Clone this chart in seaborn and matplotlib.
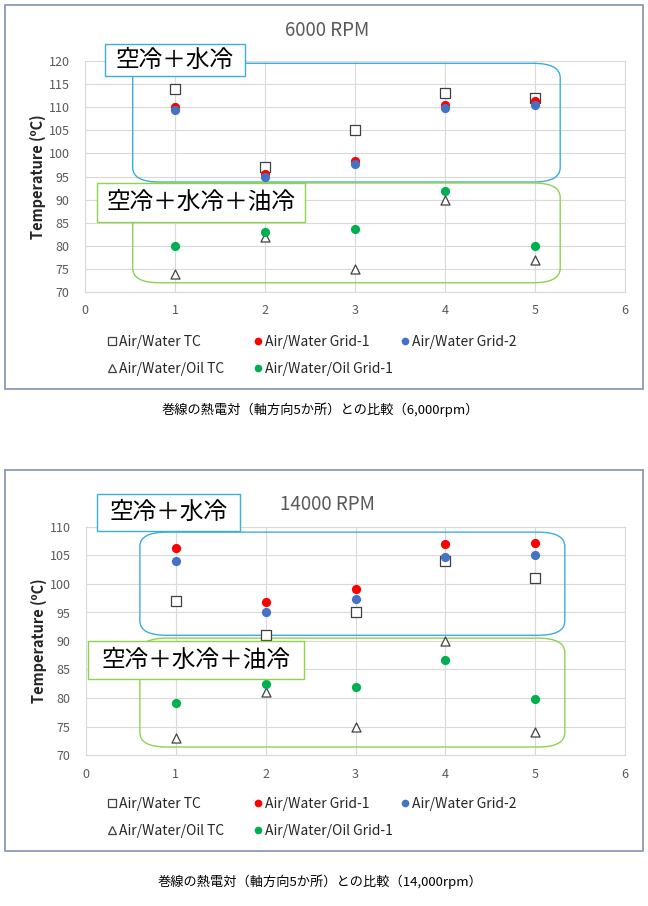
import matplotlib
matplotlib.use("Agg")
import matplotlib.pyplot as plt
import matplotlib.patches as mpatches
from matplotlib.lines import Line2D
import numpy as np
import pandas as pd
import seaborn as sns

# positions along the winding (thermocouple locations)
positions = [1, 2, 3, 4, 5]

# 6000 rpm
aw_tc_6k = [114, 97, 105, 113, 112]
aw_g1_6k = [110, 95.5, 98.3, 110.4, 111.4]
aw_g2_6k = [109.3, 95, 97.8, 109.9, 110.5]
awo_tc_6k = [74, 82, 75, 90, 77]
awo_g1_6k = [80, 83, 83.6, 91.9, 80]

# 14000 rpm
aw_tc_14k = [97, 91, 95, 104, 101]
aw_g1_14k = [106.4, 96.8, 99.2, 107, 107.2]
aw_g2_14k = [104, 95, 97.3, 104.8, 105]
awo_tc_14k = [73, 81, 75, 90, 74]
awo_g1_14k = [79.1, 82.4, 82, 86.7, 79.8]

series_names = ["Air/Water TC", "Air/Water Grid-1", "Air/Water Grid-2",
                "Air/Water/Oil TC", "Air/Water/Oil Grid-1"]
titles = ["6000 RPM", "14000 RPM"]
captions = ["巻線の熱電対（軸方向5か所）との比較（6,000rpm）",
            "巻線の熱電対（軸方向5か所）との比較（14,000rpm）"]
group_labels = ["空冷＋水冷", "空冷＋水冷＋油冷"]

sns.set_theme(style="white")
plt.rcParams["font.family"] = ["Noto Sans CJK JP", "DejaVu Sans"]

W, H = 648, 906
fig = plt.figure(figsize=(W / 100, H / 100), dpi=100)


def fx(px):
    return px / W


def fy(py):
    return 1 - py / H


RED, BLUE, GREEN = "#FF0000", "#4472C4", "#00B050"
BOX_BLUE, BOX_GREEN = "#3BAEDC", "#92D050"
TXT = "#595959"

styles = {
    "Air/Water TC": dict(marker="s", facecolor="white", edgecolor="#404040", s=42, lw=0.9),
    "Air/Water Grid-1": dict(marker="o", facecolor=RED, edgecolor=RED, s=44, lw=0),
    "Air/Water Grid-2": dict(marker="o", facecolor=BLUE, edgecolor=BLUE, s=44, lw=0),
    "Air/Water/Oil TC": dict(marker="^", facecolor="white", edgecolor="#404040", s=42, lw=0.9),
    "Air/Water/Oil Grid-1": dict(marker="o", facecolor=GREEN, edgecolor=GREEN, s=44, lw=0),
}

# legend columns (row-major as in the original), x of the marker in pixels
legend_cols = [([0, 3], 112), ([1, 4], 258), ([2], 405)]

panels = [
    dict(frame=(5, 5, 643, 389), ax=(85, 61, 625, 292), ylim=(70, 120),
         title_y=30, leg_y=341, cap_y=410,
         data=[aw_tc_6k, aw_g1_6k, aw_g2_6k, awo_tc_6k, awo_g1_6k],
         blue_rect=(0.53, 93.8, 5.28, 119.5), green_rect=(0.53, 72.0, 5.28, 93.6),
         lab1=(105, 44, 245, 76), lab2=(97, 183, 305, 222)),
    dict(frame=(5, 470, 643, 851), ax=(86, 527, 625, 755), ylim=(70, 110),
         title_y=505, leg_y=803, cap_y=882,
         data=[aw_tc_14k, aw_g1_14k, aw_g2_14k, awo_tc_14k, awo_g1_14k],
         blue_rect=(0.6, 91.0, 5.33, 109.1), green_rect=(0.6, 71.4, 5.33, 90.5),
         lab1=(97, 494, 240, 531), lab2=(88, 641, 304, 679)),
]

for p, title, caption in zip(panels, titles, captions):
    x0, y0, x1, y1 = p["frame"]
    fig.patches.append(mpatches.Rectangle((fx(x0), fy(y1)), fx(x1 - x0), (y1 - y0) / H,
                                          transform=fig.transFigure, fill=False,
                                          edgecolor="#8091B4", lw=1.2))
    a0, b0, a1, b1 = p["ax"]
    ax = fig.add_axes([fx(a0), fy(b1), fx(a1 - a0), (b1 - b0) / H])

    df = pd.DataFrame({
        "pos": np.tile(positions, len(series_names)),
        "temp": np.concatenate(p["data"]),
        "series": np.repeat(series_names, len(positions)),
    })
    for name in series_names:
        st = styles[name]
        sns.scatterplot(data=df[df["series"] == name], x="pos", y="temp", ax=ax,
                        marker=st["marker"], color=st["facecolor"],
                        edgecolor=st["edgecolor"], s=st["s"], linewidth=st["lw"],
                        zorder=4, legend=False)

    ax.set_xlim(0, 6)
    ax.set_ylim(*p["ylim"])
    ax.set_xticks(range(0, 7))
    ax.set_yticks(np.arange(p["ylim"][0], p["ylim"][1] + 1, 5))
    ax.grid(True, color="#D9D9D9", lw=0.8)
    ax.set_axisbelow(True)
    for sp in ax.spines.values():
        sp.set_color("#D9D9D9")
        sp.set_linewidth(0.8)
    ax.tick_params(colors=TXT, labelsize=9, length=0)
    ax.tick_params(axis="y", pad=11)
    ax.tick_params(axis="x", pad=9)
    ax.set_xlabel("")
    ax.set_ylabel("Temperature (ºC)", fontsize=10.5, fontweight="bold", color="#262626", labelpad=2)

    fig.text(fx(327), fy(p["title_y"]), title, ha="center", va="center",
             fontsize=13.5, color=TXT)

    # group outlines
    for (rx0, ry0, rx1, ry1), col in [(p["blue_rect"], BOX_BLUE), (p["green_rect"], BOX_GREEN)]:
        ax.add_patch(mpatches.FancyBboxPatch(
            (rx0, ry0), rx1 - rx0, ry1 - ry0,
            boxstyle="round,pad=0,rounding_size=0.3", mutation_aspect=(p["ylim"][1] - p["ylim"][0]) / 6 * 1.25,
            fill=False, edgecolor=col, lw=1.0, zorder=3, clip_on=False))

    for (lx0, ly0, lx1, ly1), col, lab in [(p["lab1"], BOX_BLUE, group_labels[0]),
                                           (p["lab2"], BOX_GREEN, group_labels[1])]:
        fig.patches.append(mpatches.Rectangle((fx(lx0), fy(ly1)), fx(lx1 - lx0), (ly1 - ly0) / H,
                                              transform=fig.transFigure, facecolor="white",
                                              edgecolor=col, lw=1.0, zorder=5))
        fig.text(fx((lx0 + lx1) / 2), fy((ly0 + ly1) / 2), lab, ha="center", va="center",
                 fontsize=17, color="black", zorder=6)

    handles = []
    for name in series_names:
        st = styles[name]
        handles.append(Line2D([], [], ls="none", marker=st["marker"],
                              markerfacecolor=st["facecolor"], markeredgecolor=st["edgecolor"],
                              markersize=5.5, markeredgewidth=max(st["lw"], 0.01), label=name))
    for idx, lx in legend_cols:
        fig.legend([handles[i] for i in idx], [series_names[i] for i in idx],
                   loc="upper left", bbox_to_anchor=(fx(lx - 6), fy(p["leg_y"] - 6)),
                   ncol=1, frameon=False, fontsize=10, handletextpad=0.05, handlelength=0.9,
                   labelspacing=0.9, labelcolor="#262626", borderpad=0, borderaxespad=0)

    fig.text(fx(320), fy(p["cap_y"]), caption, ha="center", va="center",
             fontsize=9.5, color="black")

fig.savefig("out.png", dpi=100, facecolor="white")
